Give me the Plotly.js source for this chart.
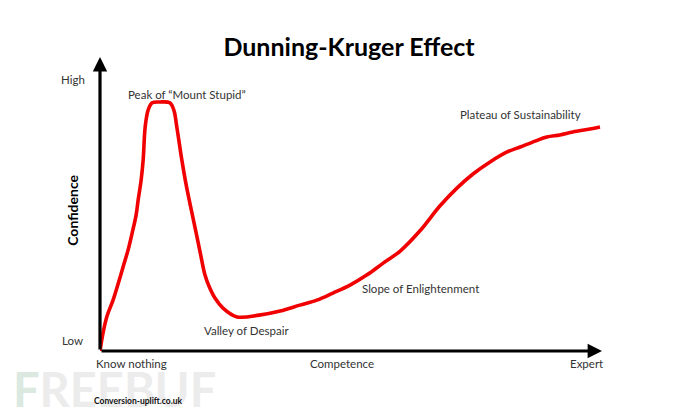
<!DOCTYPE html>
<html>
<head>
<meta charset="utf-8">
<script src="https://cdn.plot.ly/plotly-3.0.1.min.js"></script>
<style>html,body{margin:0;padding:0;background:#fff;}#chart{width:690px;height:417px;}</style>
</head>
<body>
<div id="chart"></div>
<script>
// Competence (x) vs Confidence (y), 0..100 scale
const competence = [0,0.6,1.4,2.6,3.6,4.6,5.6,6.4,7.2,7.6,8.2,8.6,9.0,9.6,10.4,12.0,13.9,14.7,15.3,16.3,17.1,17.9,18.9,19.9,20.9,21.7,22.9,24.5,27.3,31.7,35.9,39.8,43.2,46.4,49.8,53.2,56.4,59.8,63.7,67.7,71.1,74.3,77.7,81.1,83.7,86.7,89.0,91.6,94.2,97.6,99.6];
const confidence = [0,6.1,11.9,17.3,22.8,28.6,34.4,40.1,46.3,51.4,58.2,65.0,76.2,82.0,84.4,84.7,84.4,82.0,76.2,65.0,57.1,50.3,42.2,34.0,25.9,22.1,18.0,14.6,11.6,12.2,13.6,15.6,17.3,19.7,22.4,25.9,29.9,34.0,40.8,49.3,55.4,60.2,64.3,67.7,69.4,71.4,72.8,73.5,74.5,75.5,76.2];

const stageLabels = ['Peak of \u201cMount Stupid\u201d','Valley of Despair','Slope of Enlightenment','Plateau of Sustainability'];
const stageX = [17.3, 29.1, 63.9, 83.7];
const stageY = [87.4, 7.1, 21.4, 80.3];

const yTickLabels = ['High','Low'];
const yTickPos = [92.5, 3.7];
const xTickLabels = ['Know nothing','Competence','Expert'];
const xTickPos = [6.2, 48.2, 97];

const FONT = 'Lato, "Open Sans", sans-serif';
const annotations = [];
function paperNote(xv, yv, text, font, extra){
  annotations.push(Object.assign({x:xv/100, y:yv/100, xref:'paper', yref:'paper', xanchor:'center', yanchor:'middle', text:text, showarrow:false, font:font}, extra||{}));
}

// watermark (drawn first, behind everything)
paperNote(2.8, -12.9, '<b><span style="color:#dbe9e1">F</span>REEBUF</b>', {family:FONT, size:47, color:'#ececec'});

// axes as arrows
annotations.push({x:0, y:100, ax:0, ay:0, xref:'x', yref:'y', axref:'x', ayref:'y', text:'', showarrow:true, arrowhead:2, arrowsize:0.9, arrowwidth:3.2, arrowcolor:'#000', standoff:0, startstandoff:0});
annotations.push({x:100, y:0, ax:0, ay:0, xref:'x', yref:'y', axref:'x', ayref:'y', text:'', showarrow:true, arrowhead:2, arrowsize:0.9, arrowwidth:3.2, arrowcolor:'#000', standoff:0, startstandoff:0});

const labelFont = {family:FONT, size:11.5, color:'#333'};
stageLabels.forEach((t,i)=>paperNote(stageX[i], stageY[i], t, labelFont));
yTickLabels.forEach((t,i)=>paperNote(-5.4, yTickPos[i], t, labelFont));
xTickLabels.forEach((t,i)=>paperNote(xTickPos[i], -4.4, t, labelFont));
paperNote(-5.4, 48, '<b>Confidence</b>', {family:FONT, size:14, color:'#000'}, {textangle:-90});
paperNote(7.6, -17, '<b>Conversion-uplift.co.uk</b>', {family:FONT, size:8.5, color:'#111'});

const trace = {x:competence, y:confidence, type:'scatter', mode:'lines', line:{color:'#f00000', width:3.6, shape:'spline', smoothing:1}, hoverinfo:'skip'};

const layout = {
  width:690, height:417,
  margin:{l:100, r:88, t:57, b:66},
  paper_bgcolor:'#fff', plot_bgcolor:'#fff',
  showlegend:false,
  title:{text:'<b>Dunning-Kruger Effect</b>', x:349/690, xanchor:'center', y:1-47/417, yanchor:'middle', font:{family:FONT, size:25, color:'#000'}},
  xaxis:{range:[0,100], showgrid:false, zeroline:false, showline:false, showticklabels:false, ticks:'', fixedrange:true},
  yaxis:{range:[0,100], showgrid:false, zeroline:false, showline:false, showticklabels:false, ticks:'', fixedrange:true},
  annotations:annotations
};
Plotly.newPlot('chart',[trace],layout,{displayModeBar:false, staticPlot:true});
</script>
</body>
</html>
